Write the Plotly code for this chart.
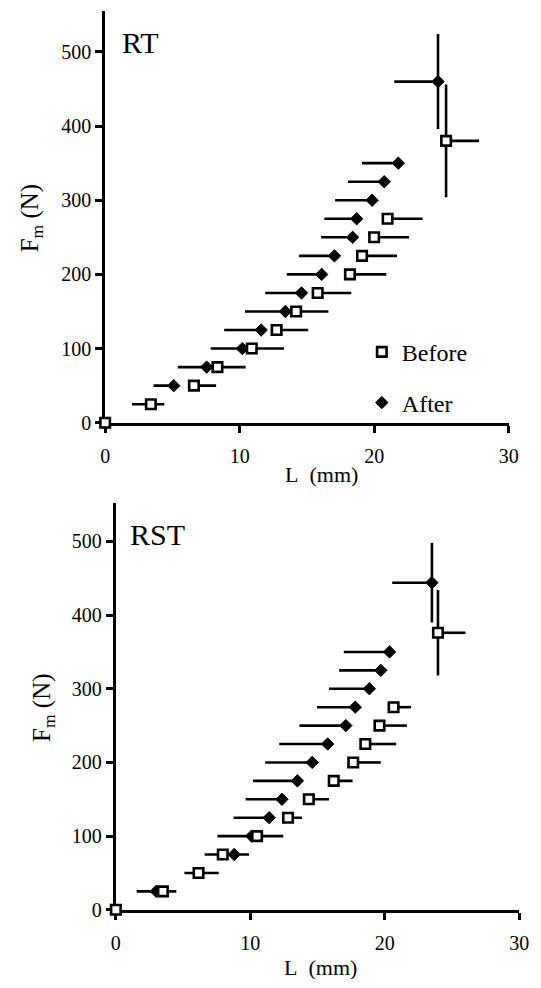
import plotly.graph_objects as go

# ---------------- data ----------------
# RT panel
rt_before_L = [0, 3.4, 6.6, 8.35, 10.9, 12.75, 14.2, 15.8, 18.2, 19.1, 20.0, 21.0, 25.35]
rt_before_F = [0, 25, 50, 75, 100, 125, 150, 175, 200, 225, 250, 275, 380]
rt_before_Lplus = [0, 1.0, 1.65, 2.1, 2.4, 2.35, 2.4, 2.5, 2.7, 2.6, 2.6, 2.6, 2.45]
rt_before_Lminus = [0, 1.4, 0, 0, 0, 0, 0, 0, 0, 0, 0, 0, 0]
rt_before_Ferr = [0, 0, 0, 0, 0, 0, 0, 0, 0, 0, 0, 0, 76]

rt_after_L = [5.1, 7.55, 10.2, 11.6, 13.4, 14.6, 16.1, 17.05, 18.4, 18.7, 19.85, 20.75, 21.8, 24.75]
rt_after_F = [50, 75, 100, 125, 150, 175, 200, 225, 250, 275, 300, 325, 350, 460]
rt_after_Lminus = [1.5, 2.15, 2.35, 2.75, 3.0, 2.7, 2.6, 2.65, 2.35, 2.4, 2.75, 2.7, 2.7, 3.25]
rt_after_Ferr = [0, 0, 0, 0, 0, 0, 0, 0, 0, 0, 0, 0, 0, 64]

# RST panel
rst_before_L = [0, 3.5, 6.15, 7.95, 10.5, 12.8, 14.35, 16.2, 17.65, 18.55, 19.6, 20.65, 23.95]
rst_before_F = [0, 25, 50, 75, 100, 125, 150, 175, 200, 225, 250, 275, 376]
rst_before_Lplus = [0, 1.0, 1.5, 1.95, 1.95, 1.05, 1.5, 1.4, 2.05, 2.3, 2.05, 1.3, 2.05]
rst_before_Lminus = [0, 0, 1.05, 0, 0, 0, 0, 0, 0, 0, 0, 0, 0]
rst_before_Ferr = [0, 0, 0, 0, 0, 0, 0, 0, 0, 0, 0, 0, 58]

rst_after_L = [3.0, 8.8, 10.1, 11.4, 12.35, 13.5, 14.6, 15.75, 17.1, 17.8, 18.85, 19.7, 20.35, 23.5]
rst_after_F = [25, 75, 100, 125, 150, 175, 200, 225, 250, 275, 300, 325, 350, 444]
rst_after_Lminus = [1.45, 2.2, 2.55, 2.65, 2.7, 3.3, 3.5, 3.6, 3.45, 2.85, 3.0, 3.1, 3.4, 2.95]
rst_after_Ferr = [0, 0, 0, 0, 0, 0, 0, 0, 0, 0, 0, 0, 0, 54]

x_ticks = [0, 10, 20, 30]
y_ticks = [0, 100, 200, 300, 400, 500]

FONT = "Liberation Serif"
W, H = 541, 988

fig = go.Figure()


def add_panel(xa, ya, Lb, Fb, bp, bm, bfe, La, Fa, am, afe, show):
    fig.add_trace(go.Scatter(
        x=La, y=Fa, mode="markers", name="After",
        marker=dict(symbol="diamond", size=9.5, color="black",
                    line=dict(color="black", width=1)),
        error_x=dict(type="data", symmetric=False, array=[0] * len(La),
                     arrayminus=am, color="black", thickness=2.6, width=0),
        error_y=dict(type="data", array=afe, color="black", thickness=2.6, width=0),
        xaxis=xa, yaxis=ya, cliponaxis=False, showlegend=show,
        legendgroup="after", legendrank=2))
    fig.add_trace(go.Scatter(
        x=Lb, y=Fb, mode="markers", name="Before",
        marker=dict(symbol="square", size=9.5, color="white",
                    line=dict(color="black", width=2.6)),
        error_x=dict(type="data", symmetric=False, array=bp,
                     arrayminus=bm, color="black", thickness=2.6, width=0),
        error_y=dict(type="data", array=bfe, color="black", thickness=2.6, width=0),
        xaxis=xa, yaxis=ya, cliponaxis=False, showlegend=show,
        legendgroup="before", legendrank=1))


add_panel("x", "y", rt_before_L, rt_before_F, rt_before_Lplus, rt_before_Lminus,
          rt_before_Ferr, rt_after_L, rt_after_F, rt_after_Lminus, rt_after_Ferr, True)
add_panel("x2", "y2", rst_before_L, rst_before_F, rst_before_Lplus, rst_before_Lminus,
          rst_before_Ferr, rst_after_L, rst_after_F, rst_after_Lminus, rst_after_Ferr, False)

axis_common = dict(showline=True, linewidth=3, linecolor="black", ticks="outside",
                   ticklen=7, tickwidth=3, tickcolor="black", showgrid=False,
                   zeroline=False, layer="below traces",
                   tickfont=dict(family=FONT, size=20, color="black"))


def px_x(p):
    return p / W


def px_y(p):
    return 1 - p / H


fig.update_layout(
    width=W, height=H, margin=dict(l=0, r=0, t=0, b=0),
    paper_bgcolor="white", plot_bgcolor="white",
    xaxis=dict(domain=[px_x(103), px_x(518)], range=[0, 30], tickvals=x_ticks,
               anchor="y", ticklabelstandoff=6, **axis_common),
    yaxis=dict(domain=[px_y(427.5), px_y(11.25)], range=[0, 555], tickvals=y_ticks,
               anchor="x", **axis_common),
    xaxis2=dict(domain=[px_x(114), px_x(529)], range=[0, 30], tickvals=x_ticks,
                anchor="y2", ticklabelstandoff=6, **axis_common),
    yaxis2=dict(domain=[px_y(920), px_y(508.8)], range=[0, 552], tickvals=y_ticks,
                anchor="x2", **axis_common),
    legend=dict(x=px_x(367), y=px_y(333.5), xanchor="left", yanchor="top",
                traceorder="grouped", tracegroupgap=16.5,
                font=dict(family=FONT, size=24, color="black"),
                bgcolor="rgba(0,0,0,0)"),
    showlegend=True,
)

ann = [
    dict(text="RT", x=px_x(118), y=px_y(43), xanchor="left", yanchor="middle",
         font=dict(family=FONT, size=30)),
    dict(text="RST", x=px_x(127), y=px_y(541), xanchor="left", yanchor="middle",
         font=dict(family=FONT, size=30)),
    dict(text="L\u00a0\u00a0(mm)", x=px_x(326), y=px_y(480), xanchor="center",
         yanchor="middle", font=dict(family=FONT, size=22)),
    dict(text="L\u00a0\u00a0(mm)", x=px_x(325), y=px_y(978), xanchor="center",
         yanchor="middle", font=dict(family=FONT, size=22)),
    dict(text="F<sub>m</sub>\u00a0(N)", x=px_x(27.5), y=px_y(220), xanchor="center",
         yanchor="middle", textangle=-90, font=dict(family=FONT, size=25)),
    dict(text="F<sub>m</sub>\u00a0(N)", x=px_x(39), y=px_y(715), xanchor="center",
         yanchor="middle", textangle=-90, font=dict(family=FONT, size=25)),
]
for a in ann:
    a.update(xref="paper", yref="paper", showarrow=False)
    a["font"]["color"] = "black"
fig.update_layout(annotations=ann)

# remove the default page margin so the 541x988 figure fills the window exactly
fig.write_html("out.html",
               config={"displayModeBar": False},
               post_script="document.body.style.margin='0px';"
                           "document.documentElement.style.overflow='hidden';")
